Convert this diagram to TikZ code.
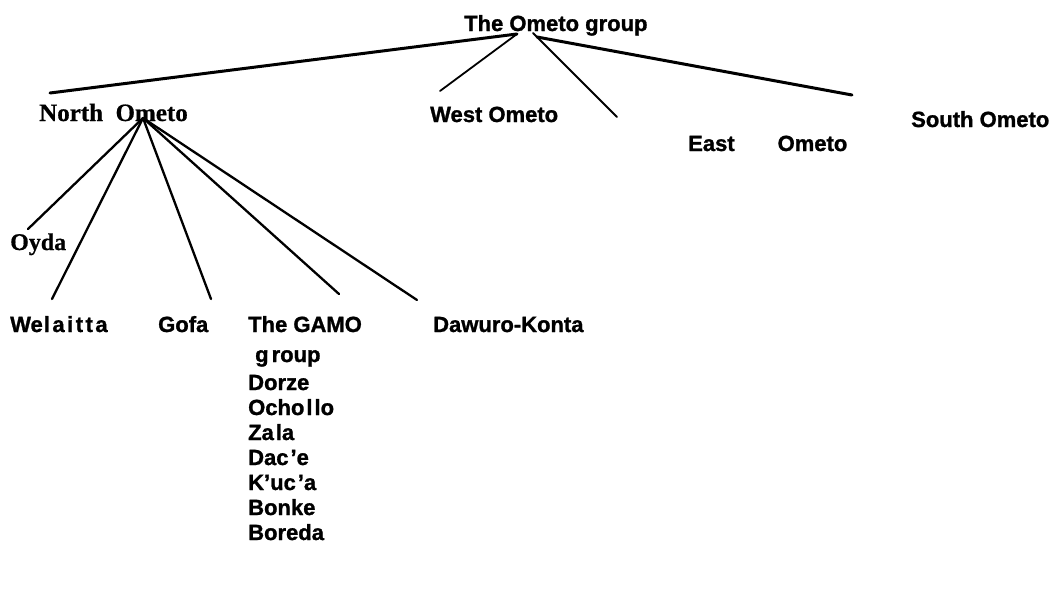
\documentclass[tikz,border=0pt]{standalone}
\usepackage{fontspec}
\setmainfont{Liberation Sans}
\newfontfamily\sansheavy[FakeBold=1.2]{Liberation Sans Bold}
\newfontfamily\serifb[FakeBold=0.6]{Liberation Serif Bold}
\tikzset{
  lbl/.style={inner sep=0pt, anchor=base west, font=\fontsize{22}{26}\selectfont\sansheavy},
  slbl/.style={inner sep=0pt, anchor=base west, font=\fontsize{24}{28}\selectfont\serifb},
  thickln/.style={line width=3pt, line cap=round},
  thinln/.style={line width=1.8pt, line cap=round},
  branch/.style={line width=2.3pt, line cap=round},
}
\begin{document}
\begin{tikzpicture}[x=1pt,y=-1pt]
\useasboundingbox (0,0) rectangle (1057,592);
% labels
\node[lbl] (root) at (464,31) {The Ometo group};
\node[slbl, font=\fontsize{25}{29}\selectfont\serifb] (north) at (39,121) {North\ \ Ometo};
\node[lbl] (west) at (430,122) {West Ometo};
\node[lbl] (east) at (688,151) {East\hspace{43pt}Ometo};
\node[lbl] (south) at (911,127) {South Ometo};
\node[slbl] (oyda) at (10,250) {Oyda};
\node[lbl] (wel) at (10,332) {We\kern1pt l\kern2.5pt a\kern2.5pt i\kern2.5pt t\kern2.5pt t\kern2.5pt a};
\node[lbl] (gofa) at (158,332) {Gofa};
\node[lbl] (gamo) at (248,332) {The GAMO};
\node[lbl] (g1) at (255,362) {g\kern3pt roup};
\node[lbl] (g2) at (248,390) {Dorze};
\node[lbl] (g3) at (248,415) {Ocho\kern2pt l\kern2pt lo};
\node[lbl] (g4) at (248,440) {Za\kern2pt la};
\node[lbl] (g5) at (248,465) {Dac\kern2pt’e};
\node[lbl] (g6) at (248,490) {K’uc\kern2pt’a};
\node[lbl] (g7) at (248,515) {Bonke};
\node[lbl] (g8) at (248,540) {Boreda};
\node[lbl] (dawuro) at (433,332) {Dawuro-Konta};
% connector points
\coordinate (a1) at (517,34);
\coordinate (a2) at (533,33);
\coordinate (a3) at (537,37);
\coordinate (eNorth) at (50,93);
\coordinate (eWest) at (440,91);
\coordinate (eEast) at (617,117);
\coordinate (eSouth) at (852,95);
\coordinate (na) at (143,118);
\coordinate (eOyda) at (28,229);
\coordinate (eWel) at (52,299);
\coordinate (eGofa) at (211,299);
\coordinate (eGamo) at (339,294);
\coordinate (eDaw) at (417,300);
% connectors
\draw[thickln] (a1) -- (eNorth);
\draw[thinln] (a1) -- (eWest);
\draw[thinln] (a2) -- (eEast);
\draw[thickln] (a3) -- (eSouth);
\draw[branch] (na) -- (eOyda);
\draw[branch] (na) -- (eWel);
\draw[branch] (na) -- (eGofa);
\draw[branch] (na) -- (eGamo);
\draw[branch] (na) -- (eDaw);
\end{tikzpicture}
\end{document}
